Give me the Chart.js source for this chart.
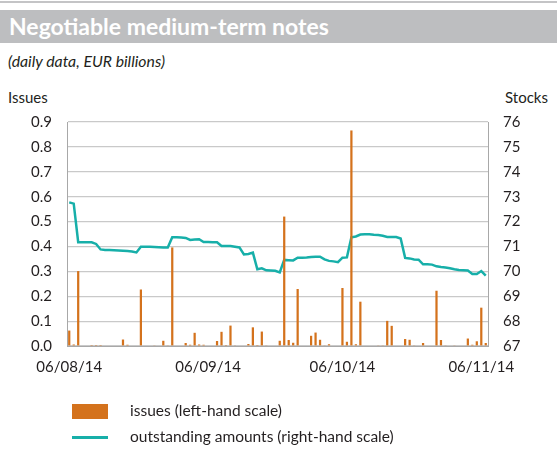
<!DOCTYPE html>
<html>
<head>
<meta charset="utf-8">
<script src="https://cdn.jsdelivr.net/npm/chart.js@4.4.1/dist/chart.umd.min.js"></script>
<style>
  body { margin:0; width:557px; height:449px; position:relative; overflow:hidden; background:#fff;
         font-family: Lato, "Open Sans", sans-serif; color:#231f20; }
  #topline { position:absolute; left:0; top:1px; width:557px; height:2px; background:#c4c4c6; }
  #title { position:absolute; left:0; top:10px; width:557px; height:33px; background:#bdbec0;
           color:#fff; font-weight:bold; font-size:23px; line-height:33px; padding-left:9px; box-sizing:border-box; }
  #sub { position:absolute; left:8px; top:51px; font-size:15.8px; font-style:italic; }
  #ltitle { position:absolute; left:8px; top:88px; font-size:15px; }
  #rtitle { position:absolute; right:9px; top:88px; font-size:15px; }
  #chart { position:absolute; left:0; top:0; }
  .leg { position:absolute; left:130px; font-size:15.5px; }
  .sw { position:absolute; left:72px; width:36px; }
</style>
</head>
<body>
<div id="topline"></div>
<div id="title">Negotiable medium-term notes</div>
<div id="sub">(daily data, EUR billions)</div>
<div id="ltitle">Issues</div>
<div id="rtitle">Stocks</div>
<canvas id="chart" width="557" height="449"></canvas>
<div class="sw" style="top:404px;height:15px;background:#d4721c"></div>
<div class="leg" style="top:401px">issues (left-hand scale)</div>
<div class="sw" style="top:436px;height:3px;background:#17afa9"></div>
<div class="leg" style="top:427px">outstanding amounts (right-hand scale)</div>
<script>
// one slot per calendar day, 6 Aug 2014 to 7 Nov 2014
var days = [];
var d = new Date(Date.UTC(2014, 7, 6));
while (d <= new Date(Date.UTC(2014, 10, 7))) {
    days.push(('0' + d.getUTCDate()).slice(-2) + '/' + ('0' + (d.getUTCMonth() + 1)).slice(-2) + '/14');
    d.setUTCDate(d.getUTCDate() + 1);
}
var tickDates = ['06/08/14', '06/09/14', '06/10/14', '06/11/14'];

// issues, EUR billions (weekends empty)
var issues = [
  0.062, 0.006, 0.301, 0, 0, 0.004, 0.004, 0.004, 0, 0, 0, 0, 0.026, 0.005,
  0, 0, 0.227, 0, 0, 0.003, 0, 0.021, 0.003, 0.396, 0, 0, 0.012, 0.005,
  0.053, 0.006, 0.005, 0, 0, 0.020, 0.057, 0.004, 0.082, 0.003, 0, 0, 0.008, 0.075,
  0.004, 0.058, 0.003, 0, 0, 0.021, 0.520, 0.024, 0.013, 0.229, 0, 0, 0.041, 0.054,
  0.025, 0.003, 0.007, 0, 0, 0.233, 0.017, 0.866, 0.007, 0.178, 0, 0, 0, 0.003,
  0.003, 0.101, 0.081, 0, 0, 0.028, 0.025, 0.003, 0, 0.012, 0, 0, 0.222, 0.024,
  0.003, 0, 0.003, 0, 0, 0.030, 0.005, 0.019, 0.154, 0.012
];

// outstanding amounts, EUR billions
var stocks = [
  72.77, 72.72, 71.17, 71.17, 71.17, 71.17, 71.10, 70.88, 70.86, 70.86, 70.85, 70.84, 70.83, 70.82,
  70.80, 70.76, 70.99, 70.99, 70.99, 70.98, 70.97, 70.96, 70.96, 71.37, 71.37, 71.36, 71.34, 71.26,
  71.28, 71.29, 71.18, 71.18, 71.17, 71.17, 71.02, 71.02, 71.02, 70.99, 70.96, 70.68, 70.70, 70.75,
  70.08, 70.12, 70.04, 70.03, 70.02, 69.96, 70.46, 70.45, 70.44, 70.55, 70.55, 70.56, 70.58, 70.59,
  70.59, 70.48, 70.42, 70.40, 70.37, 70.55, 70.56, 71.37, 71.40, 71.48, 71.49, 71.49, 71.47, 71.46,
  71.43, 71.38, 71.38, 71.38, 71.32, 70.54, 70.52, 70.48, 70.47, 70.28, 70.28, 70.27, 70.20, 70.17,
  70.15, 70.12, 70.08, 70.05, 70.04, 70.03, 69.89, 69.89, 70.01, 69.83
];

var tickFont = { family: 'Lato, "Open Sans", sans-serif', size: 15 };
var ink = '#231f20';

var ctx = document.getElementById('chart').getContext('2d');
var chart = new Chart(ctx, {
    type: 'bar',
    data: {
        labels: days,
        datasets: [{
            type: 'bar',
            label: 'issues (left-hand scale)',
            data: issues,
            yAxisID: 'y',
            backgroundColor: '#d4721c',
            barPercentage: 0.5,
            categoryPercentage: 1,
            order: 0
        }, {
            type: 'line',
            label: 'outstanding amounts (right-hand scale)',
            data: stocks,
            yAxisID: 'y1',
            borderColor: '#17afa9',
            borderWidth: 2.5,
            pointRadius: 0,
            tension: 0,
            order: 1
        }]
    },
    options: {
        responsive: false,
        animation: false,
        layout: { padding: { top: 122, left: 0, right: 0, bottom: 0 } },
        plugins: { legend: { display: false }, tooltip: { enabled: false } },
        scales: {
            x: {
                offset: true,
                grid: { display: false, drawTicks: false },
                border: { color: '#a8a8a8', width: 1 },
                ticks: {
                    autoSkip: false, maxRotation: 0, padding: 12, color: ink, font: tickFont,
                    callback: function (v, i) { return tickDates.indexOf(days[i]) >= 0 ? days[i] : null; }
                },
                afterFit: function (s) { s.height = 103; }
            },
            y: {
                position: 'left', min: 0, max: 0.9,
                grid: { color: '#c9c9c9', lineWidth: 1.2, drawTicks: false },
                border: { color: '#a8a8a8', width: 1 },
                ticks: { stepSize: 0.1, padding: 15, color: ink, font: tickFont,
                         callback: function (v) { return v.toFixed(1); } },
                afterFit: function (s) { s.width = 67; }
            },
            y1: {
                position: 'right', min: 67, max: 76,
                grid: { display: false, drawTicks: false },
                border: { color: '#a8a8a8', width: 1 },
                ticks: { stepSize: 1, padding: 15, color: ink, font: tickFont },
                afterFit: function (s) { s.width = 69; }
            }
        }
    }
});
</script>
</body>
</html>
